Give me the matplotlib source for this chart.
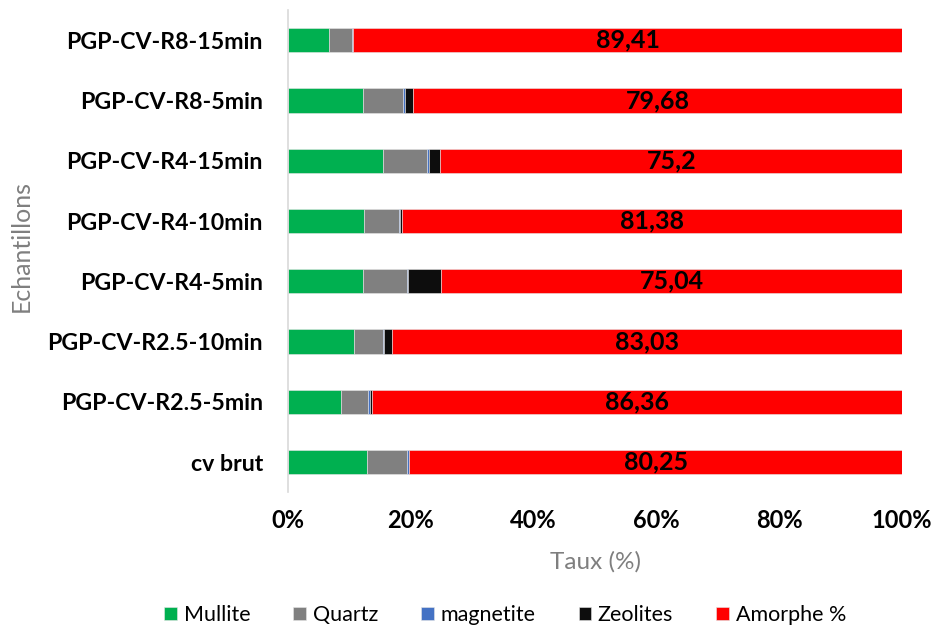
import numpy as np
import matplotlib
matplotlib.use('Agg')
import matplotlib.pyplot as plt

#######################################################
# Data (percent of each phase, per sample)
#######################################################

echantillons = ['cv brut', 'PGP-CV-R2.5-5min', 'PGP-CV-R2.5-10min', 'PGP-CV-R4-5min',
                'PGP-CV-R4-10min', 'PGP-CV-R4-15min', 'PGP-CV-R8-5min', 'PGP-CV-R8-15min']

mullite    = [12.9, 8.6, 10.75, 12.2, 12.4, 15.5, 12.2, 6.6]
quartz     = [6.5, 4.5, 4.65, 7.1, 5.6, 7.1, 6.5, 3.9]
magnetite  = [0.35, 0.25, 0.2, 0.3, 0.3, 0.3, 0.3, 0.05]
zeolites   = [0.0, 0.3, 1.35, 5.35, 0.3, 1.9, 1.3, 0.04]
amorphe    = [80.25, 86.36, 83.03, 75.04, 81.38, 75.2, 79.68, 89.41]

series_names = ['Mullite', 'Quartz', 'magnetite', 'Zeolites', 'Amorphe %']
series_colors = ['#00B050', '#808080', '#4472C4', '#0D0D0D', '#FF0000']

#######################################################
# Figure
#######################################################

plt.rcParams['font.family'] = ['Lato', 'DejaVu Sans']

fig = plt.figure(figsize=(9.32, 6.31), dpi=100)
ax = fig.add_axes([0.309, 0.220, 0.659, 0.764])

y = np.arange(len(echantillons))
series = [mullite, quartz, magnetite, zeolites, amorphe]
totals = np.array(series).sum(axis=0)

# 100 % stacked bars, one phase at a time
left = np.zeros(len(echantillons))
for name, vals, col in zip(series_names, series, series_colors):
    frac = np.array(vals) / totals
    ax.barh(y, frac, height=0.4, left=left, color=col, label=name,
            edgecolor='#e6e6e6', linewidth=0.4)
    if name == 'Amorphe %':
        for yi, l, f, v in zip(y, left, frac, vals):
            txt = ('%g' % v).replace('.', ',')
            ax.text(l + f / 2, yi, txt, ha='center', va='center',
                    fontsize=18, fontweight='bold', color='black')
    left += frac

ax.set_xlim(0, 1)
ax.set_ylim(-0.5, len(echantillons) - 0.5)
ax.set_yticks(y)
ax.set_yticklabels(echantillons, fontsize=16.7, fontweight='bold')
ax.set_xticks(np.linspace(0, 1, 6))
ax.set_xticklabels(['%d%%' % v for v in range(0, 101, 20)], fontsize=17, fontweight='bold')
ax.tick_params(axis='both', length=0)
ax.tick_params(axis='y', pad=18)
ax.tick_params(axis='x', pad=12)

for side in ['top', 'right', 'bottom']:
    ax.spines[side].set_visible(False)
ax.spines['left'].set_color('#d9d9d9')
ax.spines['left'].set_linewidth(1.2)

ax.set_xlabel('Taux (%)', fontsize=17.5, color='#7f7f7f', labelpad=14)
ax.set_ylabel('Echantillons', fontsize=18, color='#7f7f7f')
ax.yaxis.set_label_coords(-0.415, 0.51)

ax.legend(loc='center', bbox_to_anchor=(0.542, 0.025), bbox_transform=fig.transFigure,
          ncol=5, frameon=False, fontsize=15.5, handlelength=0.6, handleheight=0.6,
          handletextpad=0.3, columnspacing=2.0)

fig.savefig('out.png', dpi=100)
